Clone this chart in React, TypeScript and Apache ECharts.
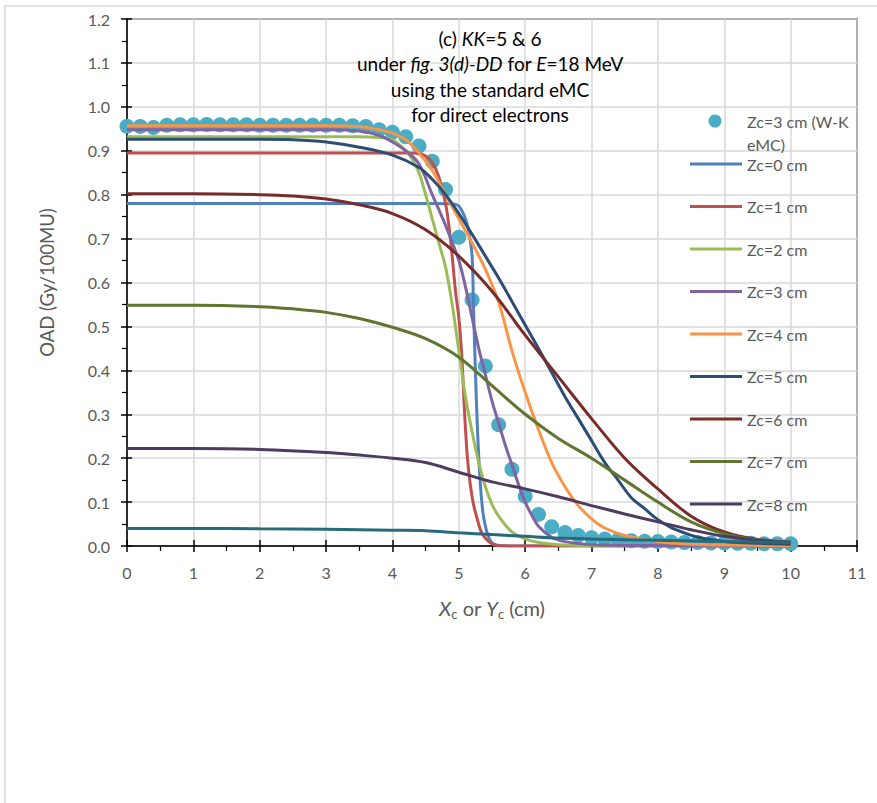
import React, { useEffect, useRef } from "react";
import * as echarts from "echarts";

// ---------- data ----------
const xTicks = [0, 1, 2, 3, 4, 5, 6, 7, 8, 9, 10, 11];
const yTicks = [0, 0.1, 0.2, 0.3, 0.4, 0.5, 0.6, 0.7, 0.8, 0.9, 1.0, 1.1, 1.2];

const dotName = "Zc=3 cm (W-K eMC)";
const dotX = [0, 0.2, 0.4, 0.6, 0.8, 1.0, 1.2, 1.4, 1.6, 1.8, 2.0, 2.2, 2.4, 2.6, 2.8, 3.0, 3.2, 3.4, 3.6, 3.8, 4.0, 4.2, 4.4, 4.6, 4.8, 5.0, 5.2, 5.4, 5.6, 5.8, 6.0, 6.2, 6.4, 6.6, 6.8, 7.0, 7.2, 7.4, 7.6, 7.8, 8.0, 8.2, 8.4, 8.6, 8.8, 9.0, 9.2, 9.4, 9.6, 9.8, 10.0];
const dotY = [0.956, 0.955, 0.953, 0.958, 0.959, 0.959, 0.96, 0.959, 0.959, 0.959, 0.958, 0.958, 0.958, 0.958, 0.958, 0.958, 0.958, 0.957, 0.955, 0.948, 0.942, 0.932, 0.911, 0.876, 0.812, 0.703, 0.56, 0.41, 0.276, 0.175, 0.113, 0.072, 0.044, 0.031, 0.024, 0.019, 0.016, 0.014, 0.012, 0.011, 0.01, 0.009, 0.008, 0.008, 0.007, 0.007, 0.006, 0.006, 0.005, 0.005, 0.005];

const zc0 = [[0, 0.78], [1, 0.78], [2, 0.78], [3, 0.78], [4, 0.78], [4.6, 0.78], [4.9, 0.779], [5.0, 0.774], [5.1, 0.745], [5.15, 0.715], [5.2, 0.66], [5.22, 0.55], [5.25, 0.4], [5.28, 0.27], [5.32, 0.15], [5.36, 0.08], [5.4, 0.045], [5.45, 0.02], [5.5, 0.007], [5.6, 0.001], [5.8, 0], [7, 0], [8.5, 0], [10, 0]];
const zc1 = [[0, 0.895], [2, 0.895], [4.3, 0.895], [4.4, 0.893], [4.5, 0.888], [4.6, 0.873], [4.7, 0.84], [4.8, 0.78], [4.85, 0.73], [4.9, 0.66], [4.95, 0.58], [5.0, 0.52], [5.04, 0.446], [5.09, 0.294], [5.13, 0.2], [5.17, 0.143], [5.22, 0.095], [5.27, 0.066], [5.33, 0.035], [5.39, 0.02], [5.47, 0.008], [5.57, 0.001], [5.8, 0], [7, 0], [8.5, 0], [10, 0]];
const zc2 = [[0, 0.932], [2, 0.932], [3.5, 0.932], [3.8, 0.93], [4.0, 0.925], [4.2, 0.9], [4.3, 0.88], [4.4, 0.85], [4.5, 0.8], [4.6, 0.745], [4.7, 0.69], [4.8, 0.635], [4.9, 0.55], [5.0, 0.445], [5.1, 0.34], [5.2, 0.26], [5.3, 0.19], [5.4, 0.135], [5.5, 0.095], [5.6, 0.068], [5.8, 0.032], [6.0, 0.016], [6.2, 0.008], [6.5, 0.003], [7.0, 0.001], [8, 0], [10, 0]];
const zc3 = [[0, 0.948], [2, 0.948], [3.0, 0.948], [3.5, 0.945], [3.8, 0.935], [4.0, 0.92], [4.2, 0.9], [4.4, 0.87], [4.6, 0.8], [4.8, 0.73], [5.0, 0.65], [5.1, 0.59], [5.2, 0.52], [5.3, 0.45], [5.4, 0.39], [5.5, 0.33], [5.6, 0.28], [5.7, 0.23], [5.8, 0.185], [5.9, 0.14], [6.0, 0.1], [6.1, 0.07], [6.2, 0.045], [6.4, 0.02], [6.6, 0.01], [7.0, 0.003], [8.0, 0.001], [10, 0]];
const zc4 = [[0, 0.957], [2, 0.957], [3.0, 0.957], [3.5, 0.955], [3.8, 0.948], [4.0, 0.94], [4.2, 0.925], [4.4, 0.895], [4.6, 0.855], [4.8, 0.8], [5.0, 0.745], [5.2, 0.69], [5.4, 0.63], [5.6, 0.555], [5.8, 0.445], [6.0, 0.35], [6.2, 0.265], [6.4, 0.19], [6.6, 0.135], [6.8, 0.092], [7.0, 0.062], [7.2, 0.041], [7.5, 0.024], [8.0, 0.01], [8.5, 0.004], [9.0, 0.002], [10, 0.001]];
const zc5 = [[0, 0.926], [2, 0.926], [2.5, 0.925], [3.0, 0.92], [3.5, 0.908], [4.0, 0.89], [4.4, 0.862], [4.6, 0.835], [4.8, 0.8], [5.0, 0.757], [5.2, 0.71], [5.4, 0.66], [5.6, 0.61], [5.8, 0.557], [6.0, 0.503], [6.2, 0.45], [6.4, 0.395], [6.6, 0.34], [6.8, 0.29], [7.0, 0.24], [7.2, 0.19], [7.4, 0.15], [7.6, 0.11], [7.8, 0.085], [8.0, 0.06], [8.2, 0.042], [8.4, 0.03], [8.6, 0.02], [9.0, 0.01], [9.5, 0.006], [10, 0.004]];
const zc6 = [[0, 0.802], [1, 0.802], [2.0, 0.8], [2.5, 0.797], [3.0, 0.79], [3.5, 0.777], [4.0, 0.757], [4.5, 0.72], [5.0, 0.66], [5.5, 0.58], [6.0, 0.48], [6.5, 0.385], [7.0, 0.29], [7.5, 0.2], [8.0, 0.13], [8.5, 0.068], [9.0, 0.032], [9.5, 0.015], [10, 0.009]];
const zc7 = [[0, 0.548], [1.0, 0.548], [2.0, 0.545], [2.5, 0.54], [3.0, 0.532], [3.5, 0.518], [4.0, 0.498], [4.5, 0.472], [5.0, 0.43], [5.5, 0.365], [6.0, 0.3], [6.5, 0.245], [7.0, 0.2], [7.5, 0.15], [8.0, 0.1], [8.5, 0.055], [9.0, 0.028], [9.5, 0.014], [10, 0.008]];
const zc8 = [[0, 0.222], [1, 0.222], [2, 0.22], [3, 0.213], [3.5, 0.207], [4, 0.2], [4.5, 0.19], [5, 0.168], [5.5, 0.146], [6, 0.13], [6.5, 0.112], [7, 0.092], [7.5, 0.073], [8, 0.055], [8.5, 0.037], [9, 0.022], [9.5, 0.013], [10, 0.008]];
const zc9 = [[0, 0.04], [1, 0.04], [2, 0.039], [3, 0.038], [4, 0.036], [4.5, 0.035], [5, 0.03], [5.5, 0.026], [6, 0.022], [6.5, 0.018], [7, 0.016], [8, 0.013], [9, 0.01], [10, 0.008]];

const lineNames = ["Zc=0 cm", "Zc=1 cm", "Zc=2 cm", "Zc=3 cm", "Zc=4 cm", "Zc=5 cm", "Zc=6 cm", "Zc=7 cm", "Zc=8 cm", "Zc=9 cm"];
const lineData = [zc0, zc1, zc2, zc3, zc4, zc5, zc6, zc7, zc8, zc9];
const lineColors = ["#4F81BD", "#C0504D", "#9BBB59", "#8064A2", "#F79646", "#2C4D75", "#772C2A", "#5F7530", "#4D3B62", "#276A7C"];
const dotColor = "#4BACC6";

const FONT = "Lato, 'Open Sans', sans-serif";
const GREY = "#595959";

export default function App() {
  const ref = useRef<HTMLDivElement>(null);
  useEffect(() => {
    if (!ref.current) return;
    const chart = echarts.init(ref.current, undefined, { renderer: "svg" });

    const lineSeries = lineData.map((d, i) => ({
      name: lineNames[i],
      type: "line",
      data: d,
      symbol: "none",
      smooth: 0.35,
      lineStyle: { color: lineColors[i], width: 3 },
      itemStyle: { color: lineColors[i] },
      z: 3 + i,
    }));

    const axisBaseX = { type: "value", min: 0, max: 11, interval: 1 };
    const axisBaseY = { type: "value", min: 0, max: 1.2, interval: 0.1 };

    chart.setOption({
      animation: false,
      backgroundColor: "#fff",
      textStyle: { fontFamily: FONT },
      title: {
        text: "(c) {i|KK}=5 & 6\nunder {i|fig. 3(d)-DD} for {i|E}=18 MeV\nusing the standard eMC\nfor direct electrons",
        left: 490,
        top: 25.5,
        padding: 0,
        textAlign: "center",
        textStyle: {
          fontFamily: FONT,
          fontSize: 19,
          fontWeight: "normal",
          color: "#000",
          lineHeight: 25.5,
          rich: {
            i: { fontFamily: FONT, fontSize: 19, fontStyle: "italic", color: "#000", lineHeight: 25.5 },
          },
        },
      },
      graphic: [
        {
          type: "rect",
          shape: { x: 5, y: 6, width: 1000, height: 1000 },
          style: { fill: "none", stroke: "#d9d9d9", lineWidth: 1.5 },
          silent: true,
          z: -1,
        },
      ],
      legend: [
        {
          data: [{ name: dotName, icon: "circle" }],
          orient: "vertical",
          left: 708.5,
          top: 86.5,
          padding: 0,
          itemWidth: 13,
          itemHeight: 13,
          formatter: () => " \n{a|Zc=3 cm (W-K}\n{a|eMC)}",
          textStyle: {
            fontFamily: FONT,
            fontSize: 16,
            color: GREY,
            lineHeight: 23,
            rich: { a: { fontFamily: FONT, fontSize: 16, color: GREY, lineHeight: 23, padding: [0, 0, 0, 20.5] } },
          },
        },
        {
          data: lineNames.slice(0, 9).map((n) => ({ name: n, icon: "rect" })),
          orient: "vertical",
          left: 690,
          top: 156,
          padding: 0,
          itemWidth: 52,
          itemHeight: 3,
          itemGap: 26.5,
          textStyle: { fontFamily: FONT, fontSize: 16, color: GREY, lineHeight: 16 },
        },
      ],
      grid: {
        left: 127,
        right: 20,
        top: 19,
        bottom: 257,
        show: true,
        borderColor: "#000",
        borderWidth: 1.5,
        backgroundColor: "transparent",
      },
      xAxis: [
        {
          ...axisBaseX,
          position: "bottom",
          axisLine: { show: true, onZero: false, lineStyle: { color: "#000", width: 1.5 } },
          axisTick: { show: true, length: 6, lineStyle: { color: "#000", width: 1.5 } },
          minorTick: { show: true, splitNumber: 2, length: 5, lineStyle: { color: "#000", width: 1.2 } },
          splitLine: { show: true, lineStyle: { color: "#d9d9d9", width: 1.5 } },
          axisLabel: {
            color: GREY,
            fontSize: 16,
            fontFamily: FONT,
            margin: 18,
            formatter: (v: number) => (xTicks.includes(v) ? String(v) : ""),
          },
          name: "{i|X}{s|c}{n| or }{i|Y}{s|c}{n| (cm)}",
          nameLocation: "middle",
          nameGap: 50,
          nameTextStyle: {
            color: GREY,
            fontFamily: FONT,
            fontSize: 20,
            rich: {
              i: { fontStyle: "italic", fontSize: 20, color: GREY, fontFamily: FONT, lineHeight: 24 },
              n: { fontSize: 20, color: GREY, fontFamily: FONT, lineHeight: 24 },
              s: { fontSize: 13, color: GREY, fontFamily: FONT, verticalAlign: "bottom", lineHeight: 24 },
            },
          },
        },
        {
          ...axisBaseX,
          position: "bottom",
          axisLine: { show: false, onZero: false },
          axisTick: { show: true, inside: true, length: 6, lineStyle: { color: "#000", width: 1.5 } },
          axisLabel: { show: false },
          splitLine: { show: false },
        },
      ],
      yAxis: [
        {
          ...axisBaseY,
          position: "left",
          axisLine: { show: true, onZero: false, lineStyle: { color: "#000", width: 1.5 } },
          axisTick: { show: true, length: 6, lineStyle: { color: "#000", width: 1.5 } },
          minorTick: { show: true, splitNumber: 2, length: 5, lineStyle: { color: "#000", width: 1.2 } },
          splitLine: { show: true, lineStyle: { color: "#d9d9d9", width: 1.5 } },
          axisLabel: {
            color: GREY,
            fontSize: 16,
            fontFamily: FONT,
            margin: 17,
            formatter: (v: number) => {
              const t = yTicks.find((y) => Math.abs(y - v) < 1e-6);
              return t === undefined ? "" : t.toFixed(1);
            },
          },
          name: "OAD (Gy/100MU)",
          nameLocation: "middle",
          nameGap: 71,
          nameTextStyle: { color: GREY, fontSize: 18.5, fontFamily: FONT },
        },
        {
          ...axisBaseY,
          position: "left",
          axisLine: { show: false, onZero: false },
          axisTick: { show: true, inside: true, length: 5, lineStyle: { color: "#000", width: 1.5 } },
          axisLabel: { show: false },
          splitLine: { show: false },
        },
      ],
      series: [
        {
          name: dotName,
          type: "scatter",
          data: dotX.map((x, i) => [x, dotY[i]]),
          symbol: "circle",
          symbolSize: 15,
          itemStyle: { color: dotColor, opacity: 1 },
          z: 2,
        },
        ...lineSeries,
      ],
    });
    return () => chart.dispose();
  }, []);

  return (
    <div
      ref={ref}
      style={{ position: "absolute", left: 0, top: 0, width: 877, height: 803, background: "#fff" }}
    />
  );
}
